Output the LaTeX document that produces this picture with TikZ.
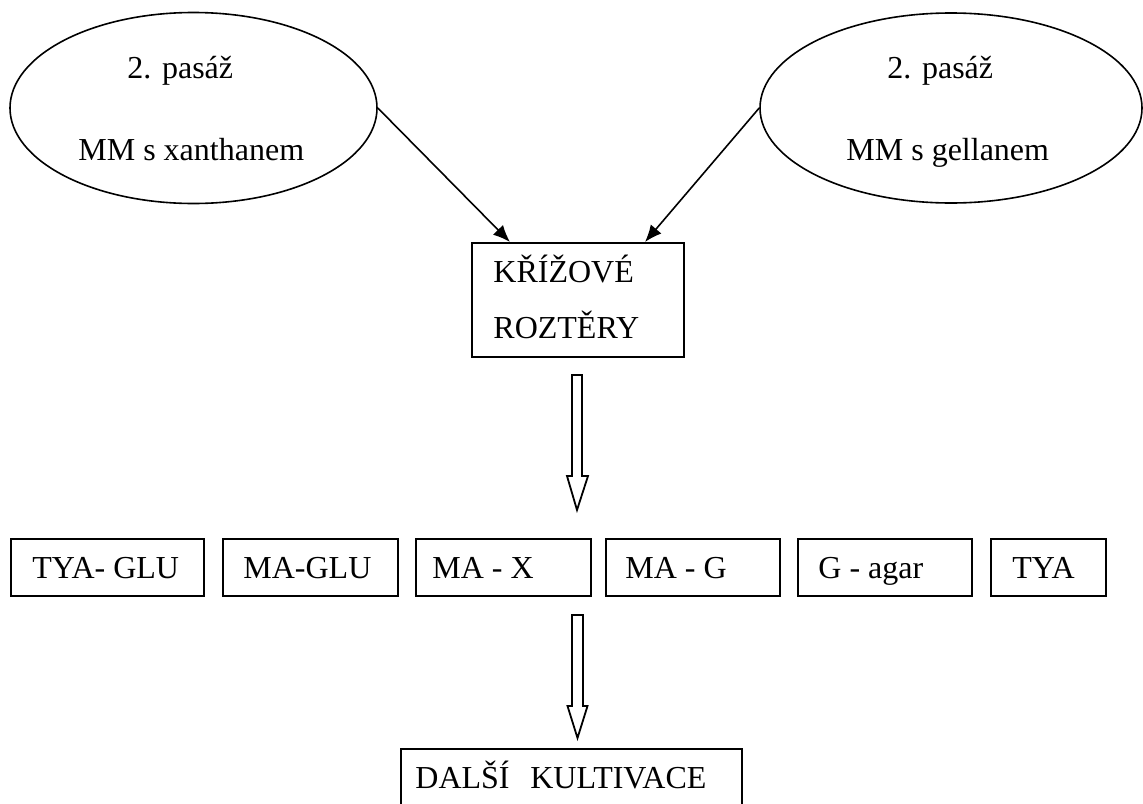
\documentclass[tikz,border=0pt]{standalone}
\usepackage{fontspec}
\setmainfont{Liberation Serif}
\usetikzlibrary{shapes.geometric,arrows.meta}
\begin{document}
\begin{tikzpicture}[x=0.5pt,y=-0.5pt,
  every node/.style={font=\fontsize{16}{19}\selectfont},
  oval/.style={ellipse,draw,line width=0.8pt,inner sep=0},
  box/.style={draw,line width=0.9pt,inner sep=0,anchor=north west},
  lbl/.style={anchor=base west,inner sep=0},
  conn/.style={line width=0.8pt,-{Latex[length=8.5pt,width=7pt]}},
  hollow/.style={draw,line width=0.9pt,line join=miter}]
\useasboundingbox (0,0) rectangle (1143,803);
% ellipses
\node[oval,minimum width=183.5pt,minimum height=95.5pt] (el1) at (193.5,108) {};
\node[oval,minimum width=191pt,minimum height=95pt] (el2) at (951,108) {};
\node[lbl] (el1a) at (127,78) {2. pasáž};
\node[lbl] (el1b) at (78,160) {MM s xanthanem};
\node[lbl] (el2a) at (887,78) {2. pasáž};
\node[lbl] (el2b) at (846,160) {MM s gellanem};
% cross box
\node[box,minimum width=106pt,minimum height=57pt] (kb) at (471,242) {};
\node[lbl] (kba) at (493,282) {KŘÍŽOVÉ};
\node[lbl] (kbb) at (493,338) {ROZTĚRY};
\coordinate (t1) at (510,242);
\coordinate (t2) at (645,242);
\draw[conn] (el1.east) -- (t1);
\draw[conn] (el2.west) -- (t2);
% hollow arrow 1
\coordinate (h1) at (577,375);
\path[hollow] (h1) ++(-5,0) -- ++(10,0) -- ++(0,101) -- ++(6,0) -- ++(-11,34) -- ++(-10,-34) -- ++(5,0) -- cycle;
% row of boxes
\node[box,minimum width=96.5pt,minimum height=28.5pt] (b1) at (10,538) {};
\node[box,minimum width=87.5pt,minimum height=28.5pt] (b2) at (222,538) {};
\node[box,minimum width=87.5pt,minimum height=28.5pt] (b3) at (415,538) {};
\node[box,minimum width=87pt,minimum height=28.5pt] (b4) at (605,538) {};
\node[box,minimum width=87pt,minimum height=28.5pt] (b5) at (797,538) {};
\node[box,minimum width=57.5pt,minimum height=28.5pt] (b6) at (990,538) {};
\node[lbl] (b1t) at (32,578) {TYA- GLU};
\node[lbl] (b2t) at (243,578) {MA-GLU};
\node[lbl] (b3t) at (432,578) {MA - X};
\node[lbl] (b4t) at (625,578) {MA - G};
\node[lbl] (b5t) at (818,578) {G - agar};
\node[lbl] (b6t) at (1012,578) {TYA};
% hollow arrow 2
\coordinate (h2) at (577.5,615);
\path[hollow] (h2) ++(-5.5,0) -- ++(11,0) -- ++(0,91) -- ++(4.5,0) -- ++(-10,32) -- ++(-10,-32) -- ++(4.5,0) -- cycle;
% bottom box
\node[box,minimum width=170.5pt,minimum height=40pt] (dk) at (400,748) {};
\node[lbl] (dkt) at (415,788) {DALŠÍ\hspace{0.65em}KULTIVACE};
\end{tikzpicture}
\end{document}
